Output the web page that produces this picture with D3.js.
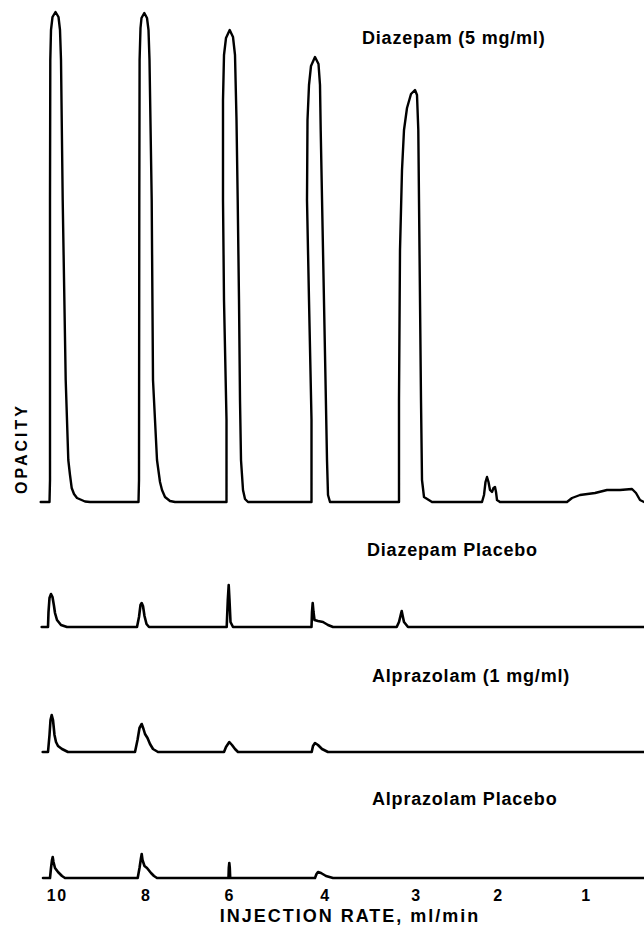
<!DOCTYPE html>
<html>
<head>
<meta charset="utf-8">
<script src="https://cdn.jsdelivr.net/npm/d3@7"></script>
<style>
  html, body { margin: 0; padding: 0; background: #fff; }
  svg { display: block; }
  text { font-family: "Liberation Sans", Arial, Helvetica, sans-serif; font-weight: bold; fill: #000; }
</style>
</head>
<body>
<script>
// ---- DATA (time in chart minutes, opacity in chart deflection units) ----
const panelTitles = ["Diazepam (5 mg/ml)", "Diazepam Placebo", "Alprazolam (1 mg/ml)", "Alprazolam Placebo"];

const diazepam = [
  [0.07,0],
  [0.95,0],[1.0,2.2],[1.0,30.2],[1.03,44.2],[1.1,47.2],[1.25,48.5],[1.55,49.0],[1.85,48.5],[2.0,47.2],[2.1,44.2],
  [2.27,30.2],[2.57,12.2],[2.83,4.2],[3.0,2.7],[3.17,1.4],[3.4,0.8],[3.7,0.4],[4.5,0.05],[5.0,0],
  [9.85,0],[9.9,2.2],[9.93,30.2],[9.96,44.2],[10.05,47.4],[10.15,48.4],[10.43,48.9],[10.7,48.4],[10.85,47.2],[10.95,44.2],
  [11.17,30.2],[11.3,12.2],[11.7,4.2],[12.0,2.0],[12.2,1.2],[12.5,0.5],[13.0,0.1],[13.5,0],
  [18.65,0],[18.65,8.2],[18.4,20.2],[18.3,30.2],[18.3,40.2],[18.4,44.7],[18.6,46.4],[18.97,47.2],[19.3,46.5],[19.5,44.7],
  [19.65,38.2],[19.77,30.2],[19.9,20.2],[20.0,10.2],[20.1,4.2],[20.3,1.2],[20.5,0.3],[20.8,0],
  [27.15,0],[27.15,8.2],[26.9,20.2],[26.7,30.2],[26.75,38.2],[26.9,41.7],[27.1,43.6],[27.5,44.5],[27.85,43.8],[28.0,41.7],
  [28.07,37.2],[28.3,25.2],[28.55,12.2],[28.7,4.2],[28.8,0.7],[29.0,0],
  [35.9,0],[35.9,10.2],[36.0,25.2],[36.2,33.2],[36.4,37.2],[36.7,39.4],[37.1,40.8],[37.5,41.2],[37.7,40.7],[37.83,37.2],
  [37.95,25.2],[38.1,10.2],[38.2,2.2],[38.4,0.5],[39.2,0],
  [44.2,0],[44.4,0.7],[44.55,2.0],[44.7,2.5],[44.85,2.0],[45.0,1.2],[45.2,1.0],[45.35,1.4],[45.5,1.5],[45.6,1.0],[45.7,0.2],[46.0,0],
  [52.7,0],[53.2,0.4],[54.0,0.7],[55.5,0.9],[56.7,1.2],[58.0,1.2],[59.2,1.3],[59.6,0.9],[60.0,0.2],[60.4,0]
];

const diazepamPlacebo = [
  [0.17,0],
  [0.8,0],[0.85,1.5],[0.95,2.9],[1.1,3.3],[1.25,3.0],[1.4,2.1],[1.5,1.4],[1.7,0.7],[2.1,0.2],[2.7,0],
  [9.7,0],[9.9,1.0],[10.05,2.2],[10.17,2.4],[10.3,2.1],[10.45,1.1],[10.65,0.3],[10.9,0],
  [18.67,0],[18.78,2.7],[18.87,4.2],[18.95,2.7],[19.05,0.5],[19.3,0],
  [27.15,0],[27.2,1.5],[27.27,2.4],[27.35,1.5],[27.45,0.7],[27.8,0.6],[28.3,0.5],[28.8,0.2],[29.3,0],
  [35.67,0],[35.9,0.5],[36.07,1.2],[36.17,1.6],[36.27,1.1],[36.4,0.5],[36.8,0],
  [60.4,0]
];

const alprazolam = [
  [0.27,0],
  [0.8,0],[0.95,1.7],[1.05,3.2],[1.17,3.7],[1.3,3.2],[1.45,1.7],[1.6,1.0],[1.8,0.6],[2.2,0.3],[2.8,0],
  [9.5,0],[9.75,1.2],[9.95,2.4],[10.17,2.8],[10.35,2.3],[10.5,1.8],[10.75,1.4],[11.0,0.8],[11.3,0.3],[11.8,0],
  [18.4,0],[18.6,0.5],[18.93,1.0],[19.2,0.7],[19.5,0.3],[19.8,0],
  [27.17,0],[27.3,0.6],[27.5,0.9],[27.8,0.7],[28.2,0.3],[28.8,0],
  [60.4,0]
];

const alprazolamPlacebo = [
  [0.3,0],
  [1.0,0],[1.1,1.0],[1.2,1.8],[1.27,2.1],[1.35,1.6],[1.5,1.0],[1.8,0.6],[2.2,0.2],[2.5,0],
  [9.77,0],[9.95,1.0],[10.1,2.0],[10.17,2.4],[10.25,1.8],[10.45,1.2],[10.7,1.0],[11.1,0.5],[11.4,0.2],[11.7,0],
  [18.85,0],[18.88,1.0],[18.93,1.5],[18.98,1.0],[19.02,0],
  [27.5,0],[27.65,0.4],[27.8,0.6],[28.1,0.5],[28.6,0.2],[29.3,0],
  [60.4,0]
];

const rateLabels = ["10", "8", "6", "4", "3", "2", "1"];
const rateTimes  = [1.67, 10.57, 18.93, 28.5, 37.6, 45.8, 54.6];

const yLabel = "OPACITY";
const xLabel = "INJECTION RATE, ml/min";

// ---- LAYOUT ----
const W = 644, H = 925;
const svg = d3.select("body").append("svg").attr("width", W).attr("height", H);

const x = d3.scaleLinear().domain([0, 60.4]).range([40, 644]);

const traces = [diazepam, diazepamPlacebo, alprazolam, alprazolamPlacebo];
const baselines = [502, 627, 752, 878];
const titlePos = [[362, 44.3], [367, 556], [372, 681.7], [372, 805]];
const strokeW = [2.4, 2.6, 2.6, 2.6];

traces.forEach((tr, i) => {
  const y = d3.scaleLinear().domain([0, 49]).range([baselines[i], baselines[i] - 490]);
  const line = d3.line().x(d => x(d[0])).y(d => y(d[1]));
  svg.append("path")
    .datum(tr)
    .attr("d", line)
    .attr("fill", "none")
    .attr("stroke", "#000")
    .attr("stroke-width", strokeW[i])
    .attr("stroke-linejoin", "round")
    .attr("stroke-linecap", "round");
  svg.append("text")
    .attr("x", titlePos[i][0])
    .attr("y", titlePos[i][1])
    .attr("font-size", 18)
    .attr("letter-spacing", 0.8)
    .text(panelTitles[i]);
});

// bottom axis (tick labels only, baseline drawn by trace)
const axis = d3.axisBottom(x)
  .tickValues(rateTimes)
  .tickFormat((d, i) => rateLabels[i])
  .tickSize(0)
  .tickPadding(0);
const gAxis = svg.append("g").attr("transform", `translate(0, ${baselines[3]})`).call(axis);
gAxis.select(".domain").remove();
gAxis.selectAll("text")
  .attr("y", 23)
  .attr("dy", null)
  .attr("font-size", 16)
  .attr("letter-spacing", 1.5)
  .style("font-family", "'Liberation Sans', Arial, sans-serif")
  .style("font-weight", "bold")
  .attr("fill", "#000");

svg.append("text")
  .attr("x", 350)
  .attr("y", 921.5)
  .attr("text-anchor", "middle")
  .attr("font-size", 18)
  .attr("letter-spacing", 2)
  .text(xLabel);

svg.append("text")
  .attr("transform", "translate(27, 448.5) rotate(-90)")
  .attr("text-anchor", "middle")
  .attr("font-size", 16)
  .attr("letter-spacing", 3)
  .text(yLabel);
</script>
</body>
</html>
